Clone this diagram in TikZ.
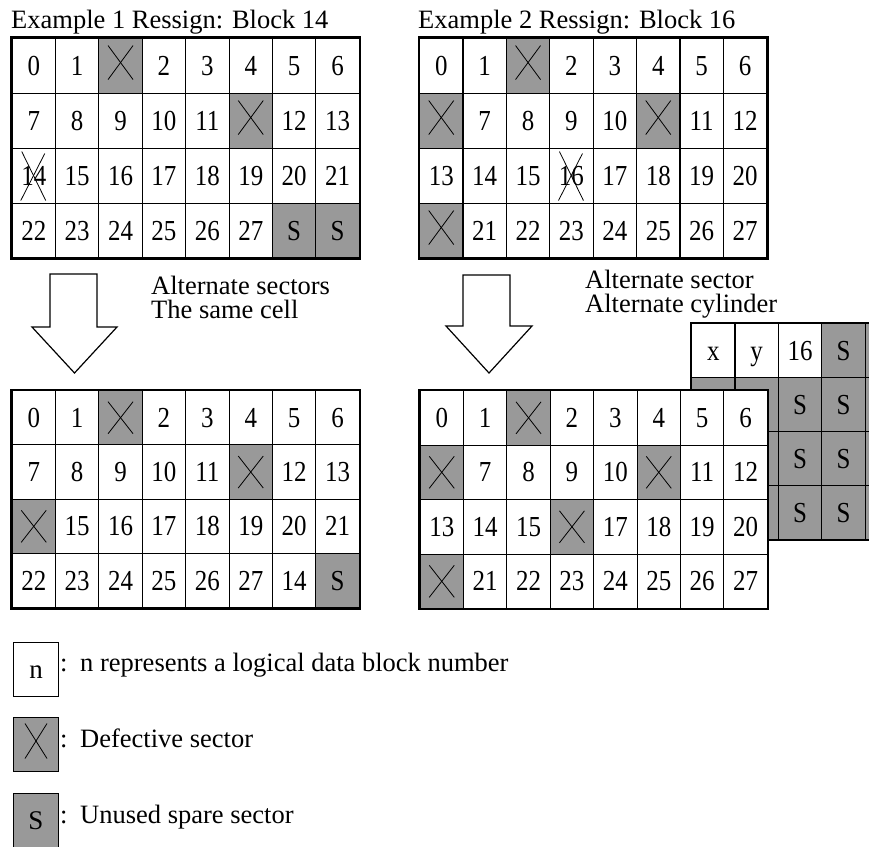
\documentclass[tikz,border=0pt]{standalone}
\usepackage{fontspec}
\setmainfont{Liberation Serif}
\newfontfamily\cellfont[FakeStretch=0.86]{Liberation Serif}
\definecolor{cellgray}{RGB}{153,153,153}
\tikzset{
  cellbase/.style={draw=black, line width=1.1pt, minimum width=43.4pt, inner sep=0pt, text height=19pt, text depth=0pt, anchor=north west, font=\cellfont\fontsize{29}{29}\selectfont},
  c-w/.style={cellbase, fill=white},
  c-s/.style={cellbase, fill=cellgray},
  c-g/.style={cellbase, fill=cellgray},
  c-d/.style={cellbase, fill=cellgray, path picture={
      \draw[line width=0.8pt] ([shift={(-12.5pt,16pt)}]path picture bounding box.center) -- ([shift={(12.5pt,-16pt)}]path picture bounding box.center);
      \draw[line width=0.8pt] ([shift={(12.5pt,16pt)}]path picture bounding box.center) -- ([shift={(-12.5pt,-16pt)}]path picture bounding box.center);}},
  c-u/.style={cellbase, fill=cellgray, path picture={
      \draw[line width=0.8pt] ([shift={(-12.5pt,20pt)}]path picture bounding box.center) -- ([shift={(12.5pt,-14pt)}]path picture bounding box.center);
      \draw[line width=0.8pt] ([shift={(12.5pt,20pt)}]path picture bounding box.center) -- ([shift={(-12.5pt,-14pt)}]path picture bounding box.center);}},
  c-c/.style={cellbase, fill=white, path picture={
      \draw[line width=0.8pt] ([shift={(-12pt,24pt)}]path picture bounding box.center) -- ([shift={(12pt,-25pt)}]path picture bounding box.center);
      \draw[line width=0.8pt] ([shift={(11pt,22pt)}]path picture bounding box.center) -- ([shift={(-13pt,-25pt)}]path picture bounding box.center);}},
  outerframe/.style={draw=black, line width=2.4pt},
  blockarrow/.style={draw=black, line width=1.2pt, fill=white, line join=miter},
  txt/.style={anchor=base west, inner sep=0pt, font=\fontsize{26.5}{26.5}\selectfont},
  legendbox/.style={draw=black, line width=1pt, minimum width=45pt, minimum height=54pt, inner sep=0pt, text height=18pt, text depth=0pt, anchor=north west, font=\fontsize{27}{27}\selectfont},
}
% #1 name, #2 x, #3 y, #4 row height, #5 entries
\newcommand{\sectorgrid}[5]{%
  \foreach \ctype/\ctext [count=\ci from 0] in {#5} {
    \pgfmathtruncatemacro{\cc}{mod(\ci,8)}
    \pgfmathtruncatemacro{\rr}{int(\ci/8)}
    \node[c-\ctype, minimum height=#4pt] (#1-\rr-\cc) at ({#2+\cc*43.4},{#3+\rr*#4}) {\ctext};
  }
  \draw[outerframe] (#1-0-0.north west) rectangle (#1-3-7.south east);
}
\begin{document}
\begin{tikzpicture}[x=1pt,y=-1pt]
\useasboundingbox (0,0) rectangle (869,846);
\fill[white] (0,0) rectangle (869,846);

% titles
\node[txt] (t1) at (11,28) {Example 1 Ressign: Block 14};
\node[txt] (t2) at (418,28) {Example 2 Ressign: Block 16};

% top-left grid
\sectorgrid{tl}{11.5}{37.5}{55}{w/0,w/1,u/{},w/2,w/3,w/4,w/5,w/6,
  w/7,w/8,w/9,w/10,w/11,u/{},w/12,w/13,
  c/14,w/15,w/16,w/17,w/18,w/19,w/20,w/21,
  w/22,w/23,w/24,w/25,w/26,w/27,s/S,s/S}

% top-right grid
\sectorgrid{tr}{419}{37.5}{55}{w/0,w/1,u/{},w/2,w/3,w/4,w/5,w/6,
  u/{},w/7,w/8,w/9,w/10,u/{},w/11,w/12,
  w/13,w/14,w/15,c/16,w/17,w/18,w/19,w/20,
  u/{},w/21,w/22,w/23,w/24,w/25,w/26,w/27}

% arrows
\draw[blockarrow] (50,274) -- (97,274) -- (97,327) -- (117,327) -- (74.5,373) -- (32,327) -- (50,327) -- cycle;
\draw[blockarrow] (463,275) -- (510,275) -- (510,326) -- (532,326) -- (489,373) -- (446,326) -- (463,326) -- cycle;

% arrow labels
\node[txt] (l1a) at (151,294) {Alternate sectors};
\node[txt] (l1b) at (151,318) {The same cell};
\node[txt] (l2a) at (585,288) {Alternate sector};
\node[txt] (l2b) at (585,312) {Alternate cylinder};

% back grid (alternate cylinder)
\begin{scope}
\clip (0,0) rectangle (869,846);
\sectorgrid{bk}{691}{323}{54}{w/x,w/y,w/16,s/S,g/{},g/{},g/{},g/{},
  g/{},g/{},s/S,s/S,g/{},g/{},g/{},g/{},
  g/{},g/{},s/S,s/S,g/{},g/{},g/{},g/{},
  g/{},g/{},s/S,s/S,g/{},g/{},g/{},g/{}}
\end{scope}

% bottom-left grid
\sectorgrid{bl}{11.5}{390}{54.3}{w/0,w/1,d/{},w/2,w/3,w/4,w/5,w/6,
  w/7,w/8,w/9,w/10,w/11,d/{},w/12,w/13,
  d/{},w/15,w/16,w/17,w/18,w/19,w/20,w/21,
  w/22,w/23,w/24,w/25,w/26,w/27,w/14,s/S}

% bottom-right grid
\sectorgrid{br}{419.5}{390}{54.5}{w/0,w/1,d/{},w/2,w/3,w/4,w/5,w/6,
  d/{},w/7,w/8,w/9,w/10,d/{},w/11,w/12,
  w/13,w/14,w/15,d/{},w/17,w/18,w/19,w/20,
  d/{},w/21,w/22,w/23,w/24,w/25,w/26,w/27}

% legend
\node[legendbox, fill=white] (lgn) at (13,642) {n};
\node[legendbox, fill=cellgray, path picture={
   \draw[line width=0.8pt] ([shift={(-11pt,21pt)}]path picture bounding box.center) -- ([shift={(11pt,-14pt)}]path picture bounding box.center);
   \draw[line width=0.8pt] ([shift={(11pt,21pt)}]path picture bounding box.center) -- ([shift={(-11pt,-14pt)}]path picture bounding box.center);}] (lgd) at (13,717) {};
\node[legendbox, fill=cellgray] (lgs) at (13,793) {S};
\node[txt] (c1) at (60,671) {:};
\node[txt] (c2) at (60,747) {:};
\node[txt] (c3) at (60,823) {:};
\node[txt] (d1) at (80,671) {n represents a logical data block number};
\node[txt] (d2) at (80,747) {Defective sector};
\node[txt] (d3) at (80,823) {Unused spare sector};
\end{tikzpicture}
\end{document}
